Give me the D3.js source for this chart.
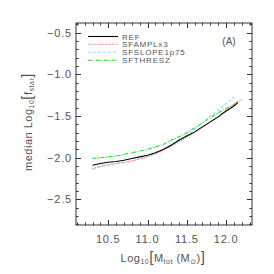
<!DOCTYPE html>
<html>
<head>
<meta charset="utf-8">
<script src="https://cdn.jsdelivr.net/npm/d3@7"></script>
<style>
  body { margin: 0; background: #fff; }
  svg { display: block; font-family: "Liberation Sans", "DejaVu Sans", sans-serif; }
</style>
</head>
<body>
<svg id="chart" width="274" height="274"></svg>
<script>
(function () {
    'use strict';

    // log10 Mtot bins
    const massBins = [10.3, 10.4, 10.5, 10.6, 10.7, 10.8, 10.9, 11.0, 11.1, 11.2, 11.3,
                      11.4, 11.5, 11.6, 11.7, 11.8, 11.9, 12.0, 12.1, 12.15, 12.2];
    const refValues = [-2.09, -2.07, -2.055, -2.045, -2.03, -2.01, -1.99, -1.97, -1.94, -1.90, -1.85,
                       -1.79, -1.74, -1.69, -1.63, -1.57, -1.51, -1.44, -1.38, -1.34, null];
    const amplValues = [-2.13, -2.10, -2.085, -2.07, -2.055, -2.04, -2.015, -1.99, -1.955, -1.91, -1.865,
                        -1.81, -1.755, -1.70, -1.63, -1.57, -1.50, -1.43, -1.36, -1.33, -1.30];
    const slopeValues = [-2.14, -2.11, -2.09, -2.07, -2.055, -2.04, -2.01, -1.985, -1.95, -1.90, -1.85,
                         -1.79, -1.73, -1.66, -1.58, -1.50, -1.43, -1.35, -1.27, null, null];
    const threshValues = [-2.01, -2.00, -1.99, -1.98, -1.96, -1.94, -1.92, -1.90, -1.87, -1.84, -1.79,
                          -1.75, -1.70, -1.64, -1.58, -1.52, -1.46, -1.41, -1.36, -1.32, null];
    const seriesNames = ["REF", "SFAMPLx3", "SFSLOPE1p75", "SFTHRESZ"];
    const xTickValues = [10.5, 11.0, 11.5, 12.0];
    const yTickValues = [-2.5, -2.0, -1.5, -1.0, -0.5];

    const seriesStyles = [
        { color: "#000000", dash: null, width: 1.1 },
        { color: "#ff8c8c", dash: "1.2,1.2", width: 1.3 },
        { color: "#8fd6ff", dash: "3,2", width: 1.1 },
        { color: "#1ee61e", dash: "4,1.5,1,1.5", width: 1.1 }
    ];
    const allValues = [refValues, amplValues, slopeValues, threshValues];

    const plotLeft = 76, plotRight = 252, plotTop = 23, plotBottom = 225;

    const x = d3.scaleLinear().domain([10.09, 12.33]).range([plotLeft, plotRight]);
    const y = d3.scaleLinear().domain([-2.807, -0.384]).range([plotBottom, plotTop]);

    const svg = d3.select('#chart');
    const axisColor = "#333";
    const textColor = "#555";

    // frame
    svg.append("rect")
        .attr("x", plotLeft).attr("y", plotTop)
        .attr("width", plotRight - plotLeft).attr("height", plotBottom - plotTop)
        .attr("fill", "none").attr("stroke", axisColor).attr("stroke-width", 1);

    // ticks on all sides
    const xMinor = d3.range(10.1, 12.31, 0.1).map(v => +v.toFixed(2));
    const yMinor = d3.range(-2.8, -0.39, 0.1).map(v => +v.toFixed(2));
    const isMajor = v => Math.abs(v * 2 - Math.round(v * 2)) < 1e-6;

    const ticks = svg.append("g").attr("stroke", axisColor).attr("stroke-width", 1);
    xMinor.forEach(v => {
        const len = isMajor(v) ? 5 : 2.5;
        const px = Math.round(x(v)) + 0.5;
        ticks.append("line").attr("x1", px).attr("x2", px).attr("y1", plotBottom).attr("y2", plotBottom - len);
        ticks.append("line").attr("x1", px).attr("x2", px).attr("y1", plotTop).attr("y2", plotTop + len);
    });
    yMinor.forEach(v => {
        const len = isMajor(v) ? 5 : 2.5;
        const py = Math.round(y(v)) + 0.5;
        ticks.append("line").attr("x1", plotLeft).attr("x2", plotLeft + len).attr("y1", py).attr("y2", py);
        ticks.append("line").attr("x1", plotRight).attr("x2", plotRight - len).attr("y1", py).attr("y2", py);
    });

    // tick labels
    svg.append("g").selectAll("text")
        .data(xTickValues)
        .join("text")
        .attr("x", d => x(d))
        .attr("y", 243)
        .attr("text-anchor", "middle")
        .attr("fill", textColor)
        .style("font-size", "11px")
        .style("letter-spacing", "0.8px")
        .text(d => d3.format(".1f")(d));

    svg.append("g").selectAll("text")
        .data(yTickValues)
        .join("text")
        .attr("x", 72)
        .attr("y", d => y(d) + 4)
        .attr("text-anchor", "end")
        .attr("fill", textColor)
        .style("font-size", "11px")
        .style("letter-spacing", "0.8px")
        .text(d => d3.format(".1f")(d).replace("-", "\u2212"));

    // axis titles
    const xTitle = svg.append("text")
        .attr("x", 163).attr("y", 262)
        .attr("text-anchor", "middle")
        .attr("fill", textColor)
        .style("font-size", "11px")
        .style("letter-spacing", "0.5px");
    xTitle.append("tspan").text("Log");
    xTitle.append("tspan").attr("dy", 2).style("font-size", "7px").text("10");
    xTitle.append("tspan").attr("dy", -2).style("font-size", "15px").text("[");
    xTitle.append("tspan").text("M");
    xTitle.append("tspan").attr("dy", 2).style("font-size", "7px").text("tot");
    xTitle.append("tspan").attr("dy", -2).text(" (M");
    xTitle.append("tspan").attr("dy", 2).style("font-size", "7px").text("\u2299");
    xTitle.append("tspan").attr("dy", -2).text(")");
    xTitle.append("tspan").style("font-size", "15px").text("]");

    const yTitle = svg.append("text")
        .attr("transform", "translate(32,122) rotate(-90)")
        .attr("text-anchor", "middle")
        .attr("fill", textColor)
        .style("font-size", "11px")
        .style("letter-spacing", "0.5px");
    yTitle.append("tspan").text("median Log");
    yTitle.append("tspan").attr("dy", 2).style("font-size", "7px").text("10");
    yTitle.append("tspan").attr("dy", -2).style("font-size", "15px").text("[");
    yTitle.append("tspan").text("f");
    yTitle.append("tspan").attr("dy", 2).style("font-size", "7px").text("star");
    yTitle.append("tspan").attr("dy", -2).style("font-size", "15px").text("]");

    // series lines
    const line = d3.line()
        .defined(d => d[1] !== null)
        .x(d => x(d[0]))
        .y(d => y(d[1]));

    const order = [3, 2, 1, 0];
    order.forEach(i => {
        const s = seriesStyles[i];
        svg.append("path")
            .datum(massBins.map((m, k) => [m, allValues[i][k]]).filter(d => d[1] !== null))
            .attr("fill", "none")
            .attr("stroke", s.color)
            .attr("stroke-width", s.width)
            .attr("stroke-dasharray", s.dash)
            .attr("d", line);
    });

    // legend
    const legend = svg.append("g");
    seriesNames.forEach((name, i) => {
        const ly = 36.5 + i * 7.9;
        const s = seriesStyles[i];
        legend.append("line")
            .attr("x1", 88).attr("x2", 118).attr("y1", ly).attr("y2", ly)
            .attr("stroke", s.color).attr("stroke-width", s.width)
            .attr("stroke-dasharray", s.dash);
        legend.append("text")
            .attr("x", 122).attr("y", ly + 3)
            .attr("fill", textColor)
            .style("font-size", "8px")
            .style("letter-spacing", "0.8px")
            .text(name);
    });

    svg.append("text")
        .attr("x", 229).attr("y", 44.5)
        .attr("text-anchor", "middle")
        .attr("fill", textColor)
        .style("font-size", "10px")
        .text("(A)");
}());
</script>
</body>
</html>
